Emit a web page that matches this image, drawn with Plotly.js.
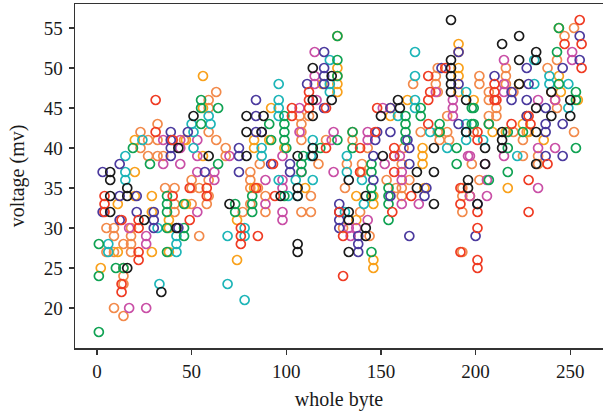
<!DOCTYPE html>
<html><head><meta charset="utf-8">
<script src="https://cdn.plot.ly/plotly-3.0.1.min.js"></script>
<style>html,body{margin:0;padding:0;background:#fff}</style></head>
<body><div id="chart" style="width:603px;height:413px"></div>
<script>
const black=[[51,44],[43,40],[59,39],[7,37],[7,36],[16,35],[7,34],[16,34],[7,32],[25,31],[42,30],[16,25],[34,22],[114,50],[124,49],[114,46],[124,46],[79,44],[88,44],[114,44],[79,42],[87,42],[114,40],[79,39],[106,39],[114,39],[133,36],[106,35],[97,34],[106,34],[142,34],[70,33],[133,32],[133,31],[142,30],[142,29],[106,28],[106,27],[133,27],[187,56],[187,51],[187,50],[187,49],[187,48],[187,47],[159,46],[195,46],[160,45],[150,44],[195,42],[178,40],[151,39],[169,37],[178,37],[223,54],[214,53],[232,52],[223,51],[232,51],[223,48],[240,47],[250,46],[232,45],[240,44],[250,44],[214,42],[232,42],[214,41],[205,40],[214,40],[205,38],[232,38],[196,36],[196,35],[169,35],[178,33],[201,33]];
const orange=[[56,49],[56,45],[20,41],[47,41],[56,39],[20,37],[20,34],[29,34],[11,33],[47,33],[29,32],[38,31],[38,30],[11,27],[29,27],[38,27],[2,25],[127,54],[127,50],[127,49],[119,48],[127,48],[127,47],[92,45],[83,41],[91,41],[83,40],[99,40],[83,35],[110,35],[137,34],[146,34],[146,33],[74,31],[137,31],[146,26],[146,25],[74,26],[191,53],[191,52],[191,50],[191,49],[191,47],[164,46],[155,45],[155,44],[181,42],[172,40],[172,39],[172,38],[244,55],[244,49],[223,48],[245,47],[199,46],[254,46],[227,44],[225,43],[209,42],[216,42],[228,42],[236,41],[173,35],[217,35],[197,34]];
const teal=[[59,44],[50,43],[51,42],[24,41],[51,40],[15,39],[15,37],[15,36],[32,30],[42,29],[6,28],[42,28],[6,27],[42,27],[33,23],[123,51],[96,48],[123,48],[123,47],[96,46],[96,45],[96,44],[60,43],[114,41],[87,40],[87,39],[113,39],[132,37],[96,36],[105,36],[114,36],[140,36],[101,34],[106,34],[141,33],[131,32],[78,30],[78,29],[69,29],[69,23],[78,21],[168,52],[168,49],[195,47],[168,46],[168,45],[159,44],[195,43],[176,42],[195,42],[195,41],[185,40],[132,39],[231,51],[239,49],[231,48],[239,48],[249,48],[249,45],[204,41],[222,39]];
const green=[[55,46],[55,45],[55,43],[19,40],[28,38],[37,34],[37,33],[46,33],[37,32],[37,30],[46,30],[46,29],[1,28],[37,27],[10,25],[14,25],[1,24],[1,17],[127,54],[127,51],[127,49],[64,45],[99,44],[91,43],[99,43],[99,42],[92,41],[99,41],[127,41],[100,40],[118,40],[109,39],[64,38],[108,38],[108,37],[145,35],[154,35],[82,34],[99,34],[145,34],[154,34],[73,33],[82,33],[154,33],[73,32],[82,32],[154,31],[145,27],[171,45],[198,45],[163,44],[171,44],[163,43],[181,43],[198,43],[135,42],[163,42],[181,42],[163,41],[135,40],[190,40],[145,38],[190,38],[145,37],[243,52],[244,55],[244,48],[253,47],[253,46],[199,45],[199,43],[207,43],[217,42],[225,42],[217,40],[253,40],[217,37],[207,36]];
const purple=[[39,42],[48,42],[39,41],[39,40],[39,39],[12,38],[3,37],[57,37],[12,34],[21,34],[3,32],[21,32],[30,32],[12,31],[30,31],[30,30],[43,30],[120,52],[120,50],[120,49],[111,48],[120,48],[84,46],[120,45],[84,44],[84,42],[87,42],[75,40],[75,39],[92,38],[102,38],[75,37],[102,37],[146,36],[155,34],[128,33],[128,32],[128,31],[128,30],[138,29],[138,28],[138,27],[182,50],[191,52],[191,48],[148,42],[155,45],[191,43],[155,42],[164,41],[147,41],[165,40],[146,39],[157,39],[165,38],[255,54],[255,51],[227,50],[246,50],[210,49],[228,48],[219,47],[219,46],[227,46],[237,45],[227,44],[237,43],[246,43],[237,42],[237,39],[246,39],[174,35],[173,34],[201,33],[200,29],[165,29]];
const red=[[31,46],[31,42],[40,41],[49,35],[58,35],[4,34],[40,34],[58,34],[4,33],[4,32],[13,31],[22,31],[49,31],[22,30],[22,27],[22,26],[13,23],[13,22],[112,47],[112,46],[103,45],[112,45],[121,45],[103,44],[121,40],[93,38],[84,35],[94,34],[128,32],[156,32],[76,30],[76,29],[85,29],[130,29],[76,28],[130,24],[184,50],[175,49],[176,47],[175,46],[148,45],[175,43],[147,42],[139,40],[157,40],[157,39],[139,37],[157,37],[255,56],[247,53],[256,53],[256,50],[210,48],[210,47],[210,46],[211,46],[228,44],[219,43],[229,43],[201,42],[201,41],[238,38],[228,36],[192,35],[166,34],[192,33],[201,32],[228,32],[201,30],[192,27],[201,26],[201,25]];
const pink=[[35,41],[44,41],[53,41],[44,40],[53,39],[35,38],[44,38],[53,37],[53,32],[17,30],[26,29],[26,28],[17,20],[26,20],[115,52],[115,49],[115,48],[116,46],[107,45],[107,42],[125,42],[124,41],[70,39],[98,39],[108,37],[62,37],[125,37],[62,36],[89,36],[98,36],[98,35],[89,33],[98,32],[98,31],[143,31],[133,30],[137,30],[134,29],[179,47],[188,46],[151,45],[188,45],[188,44],[143,42],[143,41],[160,39],[196,39],[152,38],[161,37],[251,52],[251,51],[215,51],[215,48],[215,47],[233,46],[242,46],[233,40],[242,40],[197,39],[215,39],[205,38],[161,36],[206,36],[233,35],[197,34],[206,34],[161,33],[170,33]];
const lightOrange=[[59,46],[59,45],[32,43],[23,42],[59,42],[27,41],[32,41],[46,41],[23,40],[27,39],[32,39],[35,39],[50,36],[59,36],[36,35],[41,35],[50,35],[54,35],[59,34],[41,33],[50,33],[58,33],[41,32],[5,30],[9,30],[18,30],[9,29],[18,29],[54,29],[14,28],[18,28],[5,27],[9,27],[18,27],[14,25],[14,24],[14,23],[9,20],[14,19],[63,47],[107,44],[112,44],[108,43],[108,42],[63,41],[108,41],[121,41],[68,40],[68,39],[117,38],[86,38],[81,37],[81,36],[153,36],[81,35],[85,35],[131,35],[158,35],[89,34],[113,34],[81,33],[77,32],[89,32],[108,32],[113,32],[139,32],[130,30],[144,29],[139,37],[180,50],[179,49],[167,48],[179,48],[180,47],[185,44],[135,42],[171,42],[180,42],[185,42],[135,41],[181,41],[186,41],[143,40],[162,40],[132,38],[140,38],[161,38],[140,37],[252,55],[247,54],[243,51],[216,50],[238,50],[202,49],[216,49],[202,48],[216,48],[207,47],[220,47],[240,47],[207,46],[242,46],[211,45],[243,45],[207,44],[211,44],[207,43],[199,42],[220,42],[227,42],[252,42],[225,41],[225,39],[233,39],[198,38],[233,38],[202,36],[165,36],[161,35],[193,35],[161,34],[193,34],[193,32],[193,27]];
const xTicks=[0,50,100,150,200,250];
const yTicks=[20,25,30,35,40,45,50,55];

const series=[
 [lightOrange,'#F28A4B'],[orange,'#F9A11B'],[pink,'#C94FA6'],[teal,'#1DB5B8'],
 [green,'#10A253'],[purple,'#4B3A9E'],[red,'#EF3B23'],[black,'#1A1A1A']
];
const traces=series.map(([pts,c])=>({
 type:'scatter',mode:'markers',x:pts.map(p=>p[0]),y:pts.map(p=>p[1]),
 marker:{symbol:'circle',size:9,color:'rgba(0,0,0,0)',line:{color:c,width:1.7}},
 cliponaxis:false,hoverinfo:'skip'
}));
const font={family:'"Liberation Serif",serif',color:'#1a1a1a'};
const axisBase={showgrid:false,zeroline:false,showline:true,linecolor:'#333',linewidth:1.5,
 ticks:'outside',ticklen:5,tickwidth:1.5,tickcolor:'#333',tickfont:{...font,size:19}};
Plotly.newPlot('chart',traces,{
 width:603,height:413,showlegend:false,
 paper_bgcolor:'#fff',plot_bgcolor:'#fff',font,
 margin:{l:75,r:0,t:4,b:65,pad:0},
 xaxis:{...axisBase,range:[-11.6,267.3],tickvals:xTicks,mirror:true,ticklabelstandoff:1,
  title:{text:'whole byte',font:{...font,size:20},standoff:10}},
 yaxis:{...axisBase,range:[15,58],tickvals:yTicks,ticklabelstandoff:2,
  title:{text:'voltage (mv)',font:{...font,size:20},standoff:13}}
},{displayModeBar:false,staticPlot:true});
</script></body></html>
